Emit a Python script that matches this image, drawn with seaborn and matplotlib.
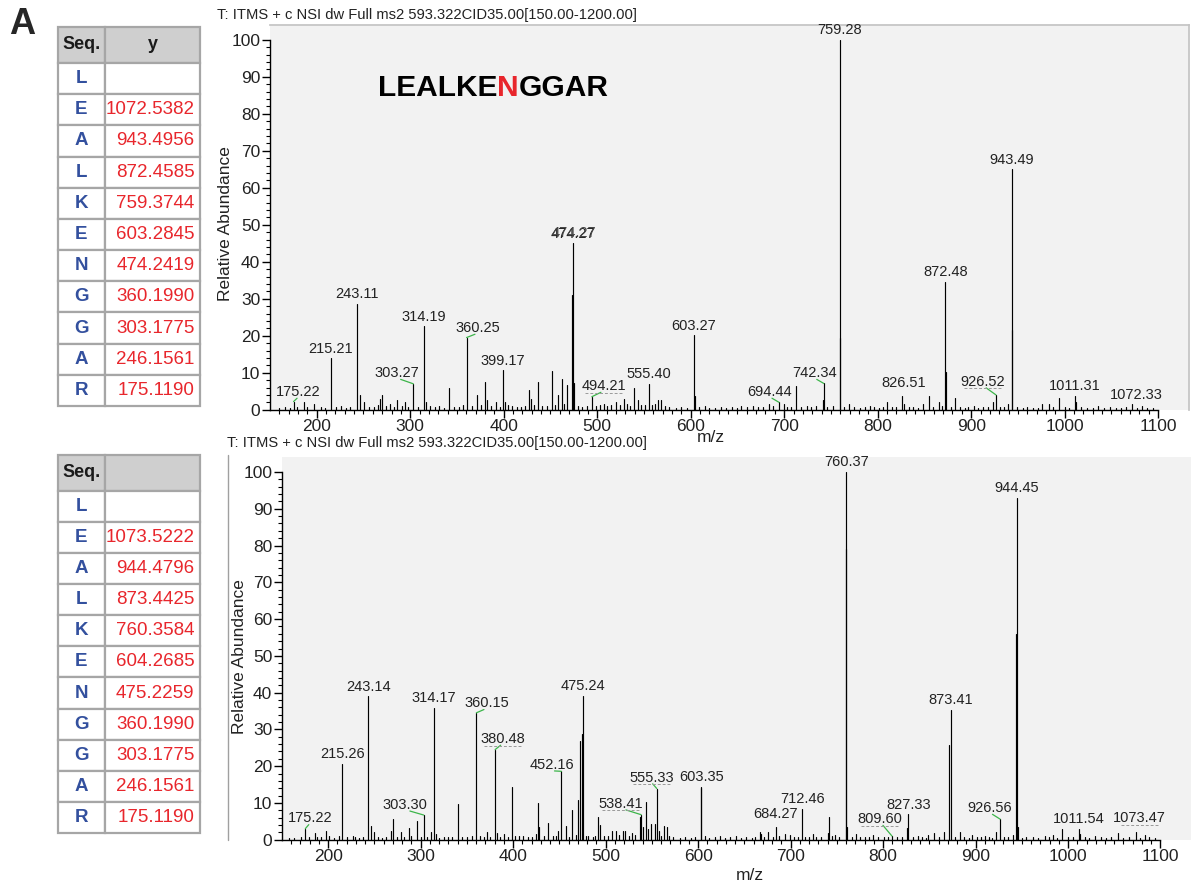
import numpy as np
import pandas as pd
import seaborn as sns
import matplotlib.pyplot as plt
from matplotlib.table import Table
from matplotlib.lines import Line2D
from matplotlib.ticker import FixedLocator

# ---- data ----
seq = ['L', 'E', 'A', 'L', 'K', 'E', 'N', 'G', 'G', 'A', 'R']
top_y_ions = [np.nan, 1072.5382, 943.4956, 872.4585, 759.3744, 603.2845,
              474.2419, 360.1990, 303.1775, 246.1561, 175.1190]
bot_y_ions = [np.nan, 1073.5222, 944.4796, 873.4425, 760.3584, 604.2685,
              475.2259, 360.1990, 303.1775, 246.1561, 175.1190]

scan_title = 'T: ITMS + c NSI dw Full ms2 593.322CID35.00[150.00-1200.00]'

# top spectrum: main and minor peaks
top_mz = [175.22, 185.9, 196.7, 215.21, 243.11, 246.0, 250.3, 268.1, 269.9, 278.8,
          286.0, 294.9, 303.27, 314.19, 316.8, 341.4, 360.25, 371.7, 380.0, 382.4,
          391.4, 399.17, 401.0, 409.2, 427.1, 428.9, 436.7, 446.7, 451.4, 458.2,
          462.8, 468.2, 472.5, 474.27, 475.3, 494.21, 507.5, 520.0, 528.2, 539.0,
          543.2, 555.40, 565.4, 568.2, 603.27, 605.1, 615.1, 654.1, 667.1, 683.8,
          694.44, 699.7, 712.3, 724.6, 741.6, 742.34, 752.4, 759.28, 759.6, 769.8,
          791.3, 809.9, 826.51, 828.4, 848.8, 854.4, 865.5, 872.48, 873.0, 882.9,
          902.6, 923.0, 926.52, 939.7, 943.49, 943.9, 976.1, 983.5, 994.2, 1011.31,
          1012.4, 1036.1, 1072.33, 1082.5]
top_rel = [2.2, 2.0, 1.5, 13.9, 28.6, 4.1, 2.0, 3.0, 4.0, 1.5,
           2.5, 2.0, 7.0, 22.5, 2.0, 6.0, 19.5, 4.0, 7.5, 2.5,
           2.0, 10.6, 2.0, 1.0, 5.2, 3.0, 7.5, 1.0, 10.5, 3.9,
           8.2, 6.7, 31.0, 45.0, 7.3, 3.5, 1.5, 2.0, 3.0, 5.9,
           2.5, 7.0, 2.7, 2.5, 20.1, 3.6, 1.0, 1.0, 1.0, 1.5,
           2.0, 1.5, 6.4, 1.0, 2.5, 7.1, 1.0, 100.0, 19.4, 1.5,
           1.0, 2.2, 3.7, 1.5, 1.5, 3.7, 2.0, 34.5, 10.3, 3.1,
           1.0, 2.0, 4.0, 1.5, 65.0, 21.5, 1.5, 1.5, 3.1, 3.8,
           2.0, 1.0, 1.5, 1.0]
# top spectrum: baseline noise
top_base_mz = [160, 166, 171, 179, 190, 205, 209, 221, 226, 231, 236, 256, 261, 265,
               274, 283, 291, 298, 308, 321, 326, 331, 336, 347, 352, 356, 366, 376,
               386, 396, 405, 414, 419, 423, 432, 441, 455, 465, 479, 484, 489, 499,
               503, 511, 515, 524, 532, 535, 547, 551, 559, 562, 572, 577, 584, 590,
               596, 609, 620, 626, 632, 638, 644, 649, 660, 672, 677, 688, 703, 707,
               718, 729, 734, 746, 764, 775, 781, 786, 796, 801, 806, 815, 820, 833,
               838, 843, 859, 869, 878, 888, 893, 897, 907, 913, 918, 931, 935, 949,
               955, 960, 966, 971, 988, 1000, 1005, 1018, 1024, 1030, 1042, 1048,
               1055, 1060, 1066, 1077, 1088, 1094]
top_base_rel = [0.5, 0.6, 0.4, 0.7, 0.6, 0.8, 0.5, 0.6, 0.9, 0.5, 0.7, 0.8, 0.6, 1.2,
                0.9, 0.7, 1.1, 0.6, 0.8, 0.9, 0.6, 1.0, 0.5, 0.8, 0.6, 1.2, 1.0, 1.4,
                0.9, 0.8, 1.3, 0.6, 0.8, 1.1, 1.2, 0.9, 1.3, 1.6, 1.0, 0.8, 1.1, 0.9,
                1.2, 1.0, 1.4, 1.2, 1.5, 1.1, 1.4, 1.2, 1.3, 1.6, 0.9, 0.6, 0.5, 0.7,
                0.5, 0.6, 0.4, 0.5, 0.6, 0.4, 0.6, 0.5, 0.6, 0.7, 0.8, 0.9, 0.6, 0.8,
                0.7, 0.6, 0.9, 0.7, 0.8, 0.6, 0.5, 0.6, 0.7, 0.5, 0.8, 0.7, 0.6, 0.6,
                0.7, 0.5, 0.8, 0.9, 0.7, 0.6, 0.5, 0.6, 0.5, 0.7, 0.6, 0.6, 0.8, 0.6,
                0.5, 0.6, 0.4, 0.5, 0.6, 0.7, 0.5, 0.6, 0.5, 0.4, 0.5, 0.6,
                0.5, 0.4, 0.6, 0.5, 0.5, 0.4]
top_labels = [175.22, 215.21, 243.11, 303.27, 314.19, 360.25, 399.17, 474.27, 494.21,
              555.40, 603.27, 694.44, 742.34, 759.28, 826.51, 872.48, 926.52, 943.49,
              1011.31, 1072.33]

# bottom spectrum: main and minor peaks
bot_mz = [170.7, 175.22, 179.7, 185.8, 197.7, 201.3, 211.4, 215.26, 226.6, 243.14,
          246.4, 250.0, 268.0, 269.8, 278.8, 286.8, 296.1, 303.30, 311.6, 314.17,
          316.0, 340.8, 355.0, 360.15, 371.8, 380.48, 382.0, 390.6, 398.9, 406.8,
          424.8, 427.3, 428.4, 437.4, 442.9, 449.0, 452.16, 457.3, 463.8, 468.1,
          470.6, 472.4, 474.2, 475.24, 478.9, 492.2, 494.0, 498.7, 507.0, 511.3,
          518.5, 521.4, 528.3, 537.3, 538.41, 540.2, 543.8, 545.6, 549.2, 553.5,
          555.33, 557.5, 562.6, 566.2, 569.0, 602.9, 603.35, 607.0, 624.0, 641.0,
          666.5, 668.0, 676.0, 684.27, 693.6, 699.3, 712.46, 723.7, 740.6, 741.7,
          748.1, 759.6, 760.37, 761.3, 770.7, 789.5, 809.60, 826.4, 827.33, 837.3,
          849.0, 854.6, 865.9, 871.8, 873.41, 883.5, 896.7, 909.8, 922.3, 926.56,
          940.0, 943.9, 944.45, 945.6, 975.6, 983.9, 993.7, 1011.54, 1013.3, 1029.5,
          1053.9, 1073.47, 1082.8]
bot_rel = [0.6, 3.0, 0.7, 1.7, 2.4, 1.0, 1.0, 20.7, 1.0, 39.0,
           3.6, 2.1, 2.4, 5.7, 2.1, 3.3, 5.0, 6.7, 2.1, 35.9,
           1.5, 9.6, 1.0, 34.5, 2.1, 24.5, 1.9, 1.5, 14.3, 1.0,
           1.5, 10.1, 3.5, 4.5, 1.1, 2.4, 18.6, 3.6, 8.0, 1.2,
           10.7, 26.9, 28.7, 39.1, 1.0, 6.2, 3.9, 1.0, 2.4, 2.4,
           2.4, 2.4, 1.8, 6.2, 6.8, 3.5, 10.2, 2.8, 4.4, 4.4,
           13.9, 2.4, 3.7, 3.5, 1.0, 14.0, 14.4, 1.0, 1.0, 1.0,
           2.2, 1.5, 2.0, 3.5, 1.6, 1.4, 8.4, 1.6, 1.8, 6.2,
           1.2, 79.0, 100.0, 3.5, 1.5, 1.4, 1.0, 3.1, 6.9, 1.0,
           1.4, 1.8, 2.0, 25.7, 35.4, 2.0, 1.2, 1.0, 2.0, 5.6,
           1.2, 55.9, 93.0, 3.5, 1.0, 1.3, 2.9, 2.9, 1.5, 1.0,
           1.8, 2.2, 1.3]
# bottom spectrum: baseline noise
bot_base_mz = [158, 163, 188, 192, 206, 220, 229, 233, 238, 254, 258, 262, 274, 282,
               290, 300, 307, 320, 325, 330, 334, 345, 350, 364, 368, 375, 386, 394,
               402, 411, 416, 420, 433, 446, 460, 481, 486, 489, 503, 514, 525, 532,
               560, 573, 580, 586, 592, 597, 612, 618, 629, 635, 646, 652, 658, 662,
               671, 681, 688, 704, 708, 716, 720, 728, 733, 745, 752, 766, 775, 781,
               785, 795, 801, 805, 815, 820, 832, 842, 846, 860, 878, 888, 893, 902,
               906, 915, 918, 931, 935, 950, 955, 962, 968, 979, 988, 1000, 1005,
               1018, 1023, 1036, 1041, 1047, 1060, 1066, 1078, 1088, 1094]
bot_base_rel = [0.4, 0.5, 0.6, 0.7, 0.5, 0.6, 0.8, 0.5, 0.6, 0.7, 0.5, 0.6, 0.8, 0.6,
                0.9, 0.7, 0.6, 0.5, 0.7, 0.6, 0.8, 0.6, 0.7, 0.9, 0.6, 0.8, 0.7, 0.6,
                0.9, 1.0, 0.8, 0.7, 0.9, 1.0, 0.8, 0.9, 0.7, 0.9, 1.0, 1.2, 1.0, 1.3,
                1.0, 0.7, 0.5, 0.6, 0.5, 0.6, 0.5, 0.6, 0.5, 0.6, 0.4, 0.6, 0.5, 0.6,
                0.7, 0.8, 0.9, 0.8, 0.7, 0.6, 0.7, 0.6, 0.8, 0.9, 0.8, 0.7, 0.6, 0.7,
                0.6, 0.6, 0.8, 0.7, 0.6, 0.7, 0.6, 0.6, 0.5, 0.7, 0.6, 0.8, 0.5, 0.6,
                0.7, 0.6, 0.5, 0.7, 0.6, 0.5, 0.6, 0.7, 0.5, 0.6, 0.5, 0.6, 0.7,
                0.6, 0.5, 0.6, 0.5, 0.7, 0.5, 0.6, 0.5, 0.6, 0.4]
bot_labels = [175.22, 215.26, 243.14, 303.30, 314.17, 360.15, 380.48, 452.16, 475.24,
              538.41, 555.33, 603.35, 684.27, 712.46, 760.37, 809.60, 827.33, 873.41,
              926.56, 944.45, 1011.54, 1073.47]

# ---- label layout (offset of the text from its peak, in m/z and % units) ----
top_label_shift = {175.22: (5, 0), 303.27: (-18, 0.3), 360.25: (12, 0), 494.21: (13, 0.3),
                   694.44: (-10, 0.2), 742.34: (-10, 0.2), 826.51: (1, 0.8),
                   926.52: (-14, 1.0), 1072.33: (4, 0)}
bot_label_shift = {175.22: (5, 0.2), 303.30: (-20, 0.2), 360.15: (11, 0), 380.48: (8, 0.3),
                   452.16: (-10, -0.8), 538.41: (-22, 0.4), 555.33: (-6, 0.4),
                   684.27: (0, 0.8), 809.60: (-13, 2.0), 926.56: (-11, 0.4),
                   1073.47: (4, 1.0)}
dashed_under = {494.21, 926.52, 380.48, 538.41, 555.33, 809.60, 1073.47}

sns.set_theme(style='white')
plt.rcParams['font.family'] = ['Liberation Sans', 'DejaVu Sans']

W, H = 1195, 885
fig = plt.figure(figsize=(W / 100, H / 100), dpi=100)


def frac(x0, y0, x1, y1):
    # pixel box -> figure fraction [left, bottom, width, height]
    return [x0 / W, 1 - y1 / H, (x1 - x0) / W, (y1 - y0) / H]


def spectrum_frame(mz, rel):
    n = len(mz)
    return pd.DataFrame({'pid': np.repeat(np.arange(n), 2),
                         'mz': np.repeat(mz, 2),
                         'rel': np.column_stack([np.zeros(n), rel]).ravel()})


def draw_spectrum(ax, mz, rel, base_mz, base_rel, labels, shifts, framed):
    df = spectrum_frame(list(base_mz) + list(mz), list(base_rel) + list(rel))
    sns.lineplot(data=df, x='mz', y='rel', units='pid', estimator=None, sort=False,
                 color='black', linewidth=0.85, ax=ax, legend=False)
    ax.set_facecolor('#f2f2f2')
    ax.set_xlim(150, 1133)
    ax.set_ylim(0, 104)
    ax.set_xticks(np.arange(200, 1101, 100))
    ax.set_yticks(np.arange(0, 101, 10))
    ax.xaxis.set_minor_locator(FixedLocator(np.arange(160, 1101, 10)))
    ax.yaxis.set_minor_locator(FixedLocator(np.arange(0, 101, 2)))
    ax.tick_params(axis='both', which='major', direction='out', length=6, width=1,
                   color='black', labelsize=12.5, labelcolor='#222222', pad=1,
                   left=True, bottom=True)
    ax.tick_params(axis='both', which='minor', direction='out', length=3, width=0.8,
                   color='black', left=True, bottom=True)
    ax.spines['left'].set_bounds(0, 100)
    ax.spines['bottom'].set_bounds(150, 1100)
    for s in ('left', 'bottom'):
        ax.spines[s].set_color('black')
        ax.spines[s].set_linewidth(1)
    for s in ('top', 'right'):
        ax.spines[s].set_visible(framed)
        ax.spines[s].set_color('#c4c4c4')
    ax.set_xlabel('m/z', fontsize=12.5, color='#222222')
    ax.set_ylabel('Relative Abundance', fontsize=12.5, color='#222222')

    lookup = dict(zip(mz, rel))
    for lab in labels:
        h = lookup[lab]
        dx, dy = shifts.get(lab, (0, 0))
        ty = h + 0.7 + dy
        ax.text(lab + dx, ty, f'{lab:.2f}', ha='center', va='bottom',
                fontsize=10.5, color='#222222')
        if abs(dx) >= 5:
            ax.plot([lab, lab + dx * 0.75], [h, ty + 0.2], color='#3cb54a', lw=0.9)
        if lab in dashed_under:
            ax.plot([lab + dx - 20, lab + dx + 20], [ty + 0.1] * 2, color='#9a9a9a',
                    lw=0.7, ls=(0, (3, 2)))


def draw_table(ax, ions, header):
    ax.set_axis_off()
    tb = Table(ax, bbox=[0, 0, 1, 1])
    widths = [47, 95]
    rows = [('Seq.', header)] + [(s, '' if np.isnan(v) else f'{v:.4f}')
                                 for s, v in zip(seq, ions)]
    for r, pair in enumerate(rows):
        for c, txt in enumerate(pair):
            cell = tb.add_cell(r, c, width=widths[c], height=36 if r == 0 else 31.2,
                               text=txt, loc='right' if (c == 1 and r > 0) else 'center',
                               facecolor='#cfcfcf' if r == 0 else 'white',
                               edgecolor='#a6a6a6')
            cell.set_linewidth(1.6)
    tb.auto_set_font_size(False)
    tb.set_fontsize(13.5)
    for (r, c), cell in tb.get_celld().items():
        t = cell.get_text()
        if r == 0:
            t.set_fontweight('bold')
            t.set_color('#1a1a1a')
            t.set_fontsize(13)
        elif c == 0:
            t.set_fontweight('bold')
            t.set_color('#33509e')
        else:
            t.set_color('#e8262c')
            cell.PAD = 0.06
    ax.add_table(tb)


# ---- top panel ----
ax1 = fig.add_axes(frac(270, 25, 1189, 409.7))
draw_spectrum(ax1, top_mz, top_rel, top_base_mz, top_base_rel, top_labels,
              top_label_shift, True)
ax1.yaxis.set_label_coords(-0.0403, 0.484)
ax1.xaxis.set_label_coords(0.48, -0.053)
# the doubled 474.27 label of the original
ax1.text(474.27 + 0.6, 45.0 + 0.8, '474.27', ha='center', va='bottom',
         fontsize=10.5, color='#444444')

t1 = ax1.text(0.117, 0.815, 'LEALKE', transform=ax1.transAxes, fontsize=21.5,
              fontweight='bold', color='black', ha='left', va='baseline')
t2 = ax1.annotate('N', xy=(1, 0), xycoords=t1, fontsize=21.5, fontweight='bold',
                  color='#e8262c', ha='left', va='bottom')
ax1.annotate('GGAR', xy=(1, 0), xycoords=t2, fontsize=21.5, fontweight='bold',
             color='black', ha='left', va='bottom')

tab1 = fig.add_axes(frac(58, 27, 200, 406))
draw_table(tab1, top_y_ions, 'y')

# ---- bottom panel ----
ax2 = fig.add_axes(frac(282, 457.3, 1191, 839.7))
draw_spectrum(ax2, bot_mz, bot_rel, bot_base_mz, bot_base_rel, bot_labels,
              bot_label_shift, False)
ax2.yaxis.set_label_coords(-0.0385, 0.479)
ax2.xaxis.set_label_coords(0.515, -0.074)

tab2 = fig.add_axes(frac(58, 455, 200, 833))
draw_table(tab2, bot_y_ions, '')

fig.add_artist(Line2D([228 / W] * 2, [1 - 455 / H, 1 - 840 / H], color='#a0a0a0', lw=1))

fig.text(217 / W, 1 - 15 / H, scan_title, fontsize=10.6, color='#222222', va='center')
fig.text(227 / W, 1 - 443 / H, scan_title, fontsize=10.6, color='#222222', va='center')
fig.text(9 / W, 1 - 24 / H, 'A', fontsize=26, fontweight='bold', va='center')

fig.savefig('out.png', dpi=100)
